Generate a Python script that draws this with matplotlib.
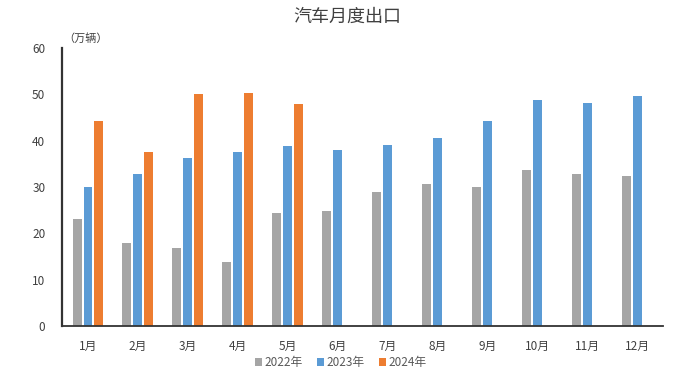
import matplotlib
matplotlib.use("Agg")
import matplotlib.pyplot as plt
import numpy as np

plt.rcParams['font.family'] = ['Noto Sans CJK SC', 'DejaVu Sans']

months = ['1月', '2月', '3月', '4月', '5月', '6月', '7月', '8月', '9月', '10月', '11月', '12月']
s2022 = [23.0, 17.9, 16.8, 13.9, 24.4, 24.8, 28.9, 30.7, 30.1, 33.7, 32.8, 32.4]
s2023 = [30.1, 32.8, 36.3, 37.5, 38.8, 38.1, 39.1, 40.7, 44.3, 48.8, 48.1, 49.7]
s2024 = [44.2, 37.6, 50.0, 50.4, 48.0]
series_names = ['2022年', '2023年', '2024年']
colors = ['#A5A5A5', '#5B9BD5', '#ED7D31']
yticks = [0, 10, 20, 30, 40, 50, 60]

fig = plt.figure(figsize=(7.0, 3.73), dpi=100)
ax = fig.add_axes([0.0886, 0.126, 0.858, 0.745])

x = np.arange(len(months))
w = 0.18
step = 0.22
ax.bar(x - step, s2022, width=w, color=colors[0], label=series_names[0])
ax.bar(x, s2023, width=w, color=colors[1], label=series_names[1])
ax.bar(np.arange(len(s2024)) + step, s2024, width=w, color=colors[2], label=series_names[2])

ax.set_xlim(-0.52, 11.5)
ax.set_ylim(0, 60)
ax.set_yticks(yticks)
ax.set_xticks(x)
ax.set_xticklabels(months)
ax.tick_params(axis='both', length=0, labelsize=8.5, colors='#404040')
ax.tick_params(axis='x', pad=10)
ax.tick_params(axis='y', pad=12)

for s in ['top', 'right']:
    ax.spines[s].set_visible(False)
ax.spines['left'].set_color('#333333')
ax.spines['left'].set_linewidth(1.6)
ax.spines['bottom'].set_color('#333333')
ax.spines['bottom'].set_linewidth(1.3)

fig.text(0.496, 0.955, '汽车月度出口', ha='center', va='center', fontsize=13, color='#404040')
fig.text(0.09, 0.897, '（万辆）', ha='left', va='center', fontsize=8, color='#404040')

leg = fig.legend(loc='center', bbox_to_anchor=(0.487, 0.028), ncol=3, frameon=False,
                 fontsize=8.5, handlelength=0.6, handleheight=0.6, handletextpad=0.2,
                 columnspacing=1.2, labelcolor='#595959')

fig.savefig('out.png', dpi=100)
